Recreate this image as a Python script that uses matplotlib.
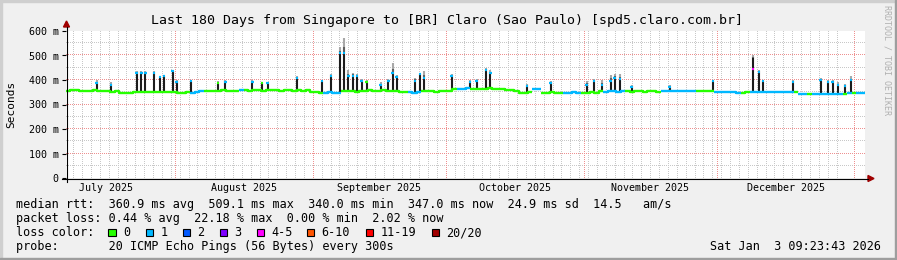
import numpy as np
import pandas as pd
import matplotlib
matplotlib.use("Agg")
import matplotlib.pyplot as plt
from matplotlib.patches import Rectangle, Polygon
from matplotlib.lines import Line2D

W, H = 897, 260
MONO = "DejaVu Sans Mono"

end = pd.Timestamp("2026-01-03 09:23:43")
start = end - pd.Timedelta(days=180)

# median rtt per day (ms), 180 days
median_ms = [
    357, 358, 360, 356, 357, 355, 358, 356, 354, 355, 353, 354, 347, 346, 348,
    352, 350, 353, 351, 352, 349, 353, 352, 350, 352, 348, 347, 349, 346, 350,
    356, 355, 357, 354, 356, 358, 355, 357, 356, 358, 359, 357, 360, 358, 356,
    359, 358, 360, 357, 358, 359, 357, 358, 356, 358, 352, 351, 348, 347, 349,
    346, 348, 355, 354, 356, 353, 357, 356, 358, 355, 357, 359, 356, 357, 355,
    350, 349, 351, 348, 350, 355, 354, 356, 353, 355, 357, 354, 364, 365, 363,
    366, 364, 362, 365, 364, 366, 363, 365, 364, 358, 359, 357, 348, 347, 349,
    364, 363, 348, 347, 349, 348, 346, 348, 347, 349, 348, 347, 348, 349, 347,
    354, 353, 355, 354, 352, 355, 354, 353, 355, 354, 353, 355, 354, 353, 356,
    357, 355, 356, 357, 356, 355, 357, 356, 355, 356, 357, 351, 352, 350, 351,
    349, 346, 347, 351, 352, 350, 350, 351, 349, 350, 351, 350, 349, 351, 350,
    343, 342, 344, 343, 341, 343, 342, 344, 343, 342, 343, 348, 347, 348, 348,
]

# loss category per day (index into loss_colors)
loss_days = (
    "000000000000000000000000000011"
    "100000000100000000000000000011"
    "110000000000000001110000000011"
    "100000000000000110000011110000"
    "011111000000001111111100001111"
    "110011111111110110111111101011"
)
loss = [int(c) for c in loss_days]

# spikes: day offset, top of dark smoke, top of light smoke, median cap, loss
spike_day = [6.9, 10.1, 15.9, 17.0, 17.9, 19.8, 21.2, 22.1, 24.0, 24.9,
             28.2, 34.2, 35.9, 42.0, 44.1, 45.4, 52.0, 57.7, 59.7, 61.7,
             62.6, 63.6, 64.6, 65.6, 66.6, 67.7, 70.9, 72.6, 73.6, 74.5,
             78.6, 79.7, 80.7, 86.9, 91.0, 92.5, 94.6, 95.6, 103.8, 109.2,
             117.3, 118.9, 120.7, 122.7, 123.6, 124.8, 127.4, 136.0, 145.7, 154.8,
             156.1, 157.0, 163.8, 170.0, 171.7, 172.7, 173.9, 175.5, 176.8]
spike_top = [389, 380, 430, 430, 430, 430, 411, 415, 435, 393,
             394, 386, 393, 393, 386, 386, 409, 394, 415, 509,
             510, 415, 418, 418, 397, 390, 380, 395, 430, 411,
             397, 423, 410, 415, 393, 397, 441, 430, 375, 389,
             380, 394, 380, 397, 410, 403, 372, 370, 394, 490,
             434, 394, 393, 400, 393, 393, 380, 375, 400]
spike_smoke = [398, 392, 436, 436, 436, 438, 418, 422, 440, 400,
               402, 395, 400, 400, 392, 392, 418, 402, 425, 536,
               573, 440, 430, 425, 405, 398, 390, 405, 470, 420,
               410, 430, 437, 425, 400, 405, 450, 440, 385, 395,
               395, 405, 400, 420, 425, 425, 380, 378, 400, 500,
               440, 400, 400, 408, 400, 400, 390, 385, 415]
spike_cap = [389, 380, 430, 430, 430, 430, 411, 415, 435, 393,
             394, 386, 393, 393, 386, 386, 409, 394, 415, 509,
             510, 415, 418, 418, 397, 390, 380, 395, 430, 411,
             397, 423, 410, 415, 393, 397, 441, 430, 375, 389,
             380, 394, 380, 397, 410, 403, 372, 370, 394, 444,
             434, 394, 393, 400, 393, 393, 380, 375, 400]
spike_loss = [1, 1, 1, 1, 1, 1, 1, 1, 1, 1,
              1, 0, 1, 1, 0, 1, 1, 1, 1, 1,
              1, 1, 1, 1, 1, 0, 1, 1, 1, 1,
              1, 1, 1, 1, 1, 1, 1, 1, 1, 1,
              1, 1, 1, 1, 1, 1, 1, 1, 1, 4,
              1, 1, 1, 1, 1, 1, 1, 1, 1]

loss_colors = ["#26ff00", "#00b8ff", "#0059ff", "#7e00ff",
               "#ff00ff", "#ff5500", "#ff0000", "#a10000"]
loss_labels = ["0", "1", "2", "3", "4-5", "6-10", "11-19", "20/20"]
legend_x = [108.3, 145.7, 182.7, 219.5, 256.7, 306.7, 365.7, 431.7]

y_ticks = [0, 100, 200, 300, 400, 500, 600]
y_labels = ["0", "100 m", "200 m", "300 m", "400 m", "500 m", "600 m"]

rtt_line = "median rtt:  360.9 ms avg  509.1 ms max  340.0 ms min  347.0 ms now  24.9 ms sd  14.5   am/s"
loss_line = "packet loss: 0.44 % avg  22.18 % max  0.00 % min  2.02 % now"
probe_line = "probe:       20 ICMP Echo Pings (56 Bytes) every 300s"
stamp = "Sat Jan  3 09:23:43 2026"


def fx(x):
    return x / W


def fy(y):
    return 1 - y / H


fig = plt.figure(figsize=(W / 100, H / 100), dpi=100)
fig.patch.set_facecolor("#f0f0f0")

# frame shading
fig.patches.append(Rectangle((0, fy(2)), 1, 2 / H, transform=fig.transFigure, color="#cfcfcf", zorder=0))
fig.patches.append(Rectangle((0, 0), 2 / W, 1, transform=fig.transFigure, color="#cfcfcf", zorder=0))
fig.patches.append(Rectangle((0, 0), 1, 2 / H, transform=fig.transFigure, color="#9e9e9e", zorder=0))
fig.patches.append(Rectangle((1 - 2 / W, 0), 2 / W, 1, transform=fig.transFigure, color="#9e9e9e", zorder=0))

ax = fig.add_axes([fx(66), fy(178), 799 / W, 147 / H])
ax.set_xlim(0, 180)
ax.set_ylim(0, 600)
ax.set_facecolor("white")
for s in ax.spines.values():
    s.set_visible(False)

# dotted grid, one pixel every two pixels
months = pd.date_range("2025-07-01", "2026-02-01", freq="MS")
month_off = np.array([(m - start) / pd.Timedelta(days=1) for m in months])
sep1 = (pd.Timestamp("2025-09-01") - start) / pd.Timedelta(days=1)
minor = sep1 + 2 * np.arange(-40, 60)
minor = minor[(minor > 0) & (minor < 180)]
major_x = month_off[(month_off > 0) & (month_off < 180)]
minor_y = np.arange(50, 600, 100)
major_y = np.array(y_ticks[1:])

step_x = 180 / 799 * 2
step_y = 600 / 147 * 2
dots_x = np.arange(0, 180, step_x)
dots_y = np.arange(0, 600, step_y)


def dotted(xs, ys, vertical, color, z):
    if vertical:
        X, Y = np.meshgrid(xs, dots_y)
    else:
        X, Y = np.meshgrid(dots_x, ys)
    ax.plot(X.ravel(), Y.ravel(), ",", color=color, zorder=z)


dotted(minor, None, True, "#c8c8c8", 0)
dotted(None, minor_y, False, "#c8c8c8", 0)
dotted(major_x, None, True, "#ee9090", 1)
dotted(None, major_y, False, "#ee9090", 1)

# spikes (smoke)
med = np.array(median_ms, dtype=float)
sd = np.array(spike_day)
base = med[sd.astype(int)]
top = np.array(spike_top, dtype=float)
smk = np.array(spike_smoke, dtype=float)
ax.vlines(sd, top, smk, colors="#a8a8a8", lw=1.5, zorder=2)
ax.vlines(sd, top, top + (smk - top) * 0.4, colors="#606060", lw=1.5, zorder=2)
ax.vlines(sd, base, top, colors="#1c1c1c", lw=1.5, zorder=2)

# median line coloured by loss
edges = np.arange(181)
lossarr = np.array(loss)
for k, c in enumerate(loss_colors):
    if not np.any(lossarr == k):
        continue
    yk = np.where(lossarr == k, med, np.nan)
    yk = np.append(yk, yk[-1])
    ax.step(edges, yk, where="post", color=c, lw=1.7, zorder=3, solid_capstyle="butt")

for d, cap, l in zip(spike_day, spike_cap, spike_loss):
    ax.hlines(cap, d - 0.28, d + 0.28, colors=loss_colors[l], lw=1.6, zorder=4)

# axes ticks and labels
ax.set_yticks(y_ticks, y_labels, family=MONO, fontsize=7.2)
ax.tick_params(axis="y", length=3, width=0.8, pad=2.2, colors="black")
mids = (month_off[:-2] + month_off[1:-1]) / 2
ax.set_xticks(mids, [m.strftime("%B %Y") for m in months[:-2]], family=MONO, fontsize=7.2)
ax.tick_params(axis="x", length=0, pad=3.5)

# axis lines and arrows
fig.lines.append(Line2D([fx(62), fx(868)], [fy(178.5), fy(178.5)], transform=fig.transFigure, color="black", lw=0.8))
fig.lines.append(Line2D([fx(66.5), fx(66.5)], [fy(182), fy(27)], transform=fig.transFigure, color="black", lw=0.8))
fig.patches.append(Polygon([(fx(63.5), fy(27)), (fx(69.5), fy(27)), (fx(66.5), fy(21))],
                           closed=True, transform=fig.transFigure, color="#a00000"))
fig.patches.append(Polygon([(fx(868), fy(175.5)), (fx(868), fy(181.5)), (fx(874), fy(178.5))],
                           closed=True, transform=fig.transFigure, color="#a00000"))

# title and side labels
fig.text(fx(447), fy(24), "Last 180 Days from Singapore to [BR] Claro (Sao Paulo) [spd5.claro.com.br]",
         family=MONO, fontsize=9.5, ha="center", va="baseline")
fig.text(fx(11), fy(104), "Seconds", family=MONO, fontsize=8, rotation=90, ha="center", va="center")
fig.text(fx(886.5), fy(60), "RRDTOOL / TOBI OETIKER", family=MONO, fontsize=6,
         rotation=270, ha="center", va="center", color="#b0b0b0")

# legend
fs = 8.5
x0 = 15.5
fig.text(fx(x0), fy(208.3), rtt_line, family=MONO, fontsize=fs, va="baseline")
fig.text(fx(x0), fy(222.3), loss_line, family=MONO, fontsize=fs, va="baseline")
fig.text(fx(x0), fy(236.3), "loss color:", family=MONO, fontsize=fs, va="baseline")
for x, c, lab in zip(legend_x, loss_colors, loss_labels):
    fig.patches.append(Rectangle((fx(x), fy(236)), 7.5 / W, 7.5 / H, transform=fig.transFigure,
                                 facecolor=c, edgecolor="black", lw=0.8))
    fig.text(fx(x + 14.5), fy(236.3), lab, family=MONO, fontsize=fs, va="baseline")
fig.text(fx(x0), fy(250.3), probe_line, family=MONO, fontsize=fs, va="baseline")
fig.text(fx(880.5), fy(250.3), stamp, family=MONO, fontsize=fs, va="baseline", ha="right")

fig.savefig("out.png", dpi=100, facecolor=fig.get_facecolor())
